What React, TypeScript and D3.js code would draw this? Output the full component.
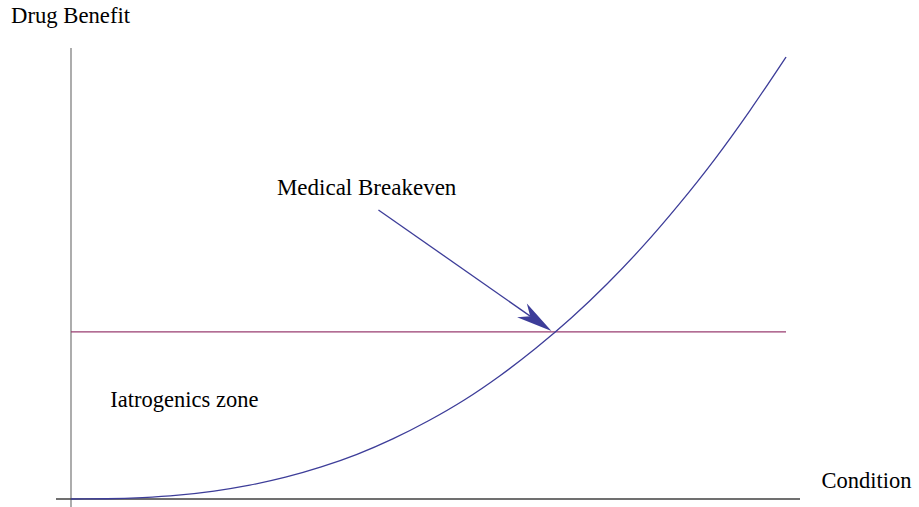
import React from "react";
import * as d3 from "d3";

const conditionValues = [0, 0.05, 0.1, 0.15, 0.2, 0.25, 0.3, 0.35, 0.4, 0.45, 0.5, 0.55, 0.6, 0.65, 0.7, 0.75, 0.8, 0.85, 0.9, 0.95, 1.0];
const benefitValues = [0, 0.06, 0.32, 0.87, 1.79, 3.13, 4.93, 7.25, 10.1, 13.6, 17.7, 22.4, 27.9, 34.1, 41.0, 48.7, 57.2, 66.6, 76.8, 88.0, 100];
const breakevenLevel = [37.8];
const breakevenExtent = [0, 1.0];
const arrowFrom = [0.43, 65.4];
const arrowTo = [0.672, 38.0];
const annotationPos = [0.288, 68.7];
const zonePos = [0.055, 20.8];

const W = 919;
const H = 507;
const FONT = "'Liberation Serif', 'Times New Roman', serif";
const BLUE = "#3d3d99";
const PURPLE = "#993d70";

export default function App() {
  const x = d3.scaleLinear().domain([0, 1]).range([71, 786]);
  const y = d3.scaleLinear().domain([0, 100]).range([499, 57]);

  const pts: [number, number][] = conditionValues.map((c, i) => [c, benefitValues[i]]);
  const line = d3
    .line<[number, number]>()
    .x((d) => x(d[0]))
    .y((d) => y(d[1]))
    .curve(d3.curveMonotoneX);

  // arrow geometry (pixels, from data)
  const x0 = x(arrowFrom[0]);
  const y0 = y(arrowFrom[1]);
  const x1 = x(arrowTo[0]);
  const y1 = y(arrowTo[1]);
  const len = Math.hypot(x1 - x0, y1 - y0);
  const ux = (x1 - x0) / len;
  const uy = (y1 - y0) / len;
  const nx = -uy;
  const ny = ux;
  const L = 36;
  const hw = 8.5;
  const notch = 26;
  const bx = x1 - ux * L;
  const by = y1 - uy * L;
  const head = [
    [x1, y1],
    [bx + nx * hw, by + ny * hw],
    [x1 - ux * notch, y1 - uy * notch],
    [bx - nx * hw, by - ny * hw],
  ]
    .map((p) => p.join(","))
    .join(" ");

  return (
    <svg
      width={W}
      height={H}
      style={{ position: "absolute", left: 0, top: 0, display: "block", background: "#fff" }}
    >
      {/* axes */}
      <line x1={71} y1={48} x2={71} y2={507} stroke="#808080" strokeWidth={1.3} />
      <line x1={56} y1={499} x2={800} y2={499} stroke="#404040" strokeWidth={1.3} />

      {/* breakeven line */}
      <line
        x1={x(breakevenExtent[0])}
        x2={x(breakevenExtent[1])}
        y1={y(breakevenLevel[0])}
        y2={y(breakevenLevel[0])}
        stroke={PURPLE}
        strokeWidth={1.3}
      />

      {/* benefit curve */}
      <path d={line(pts) || ""} fill="none" stroke={BLUE} strokeWidth={1.3} />

      {/* arrow */}
      <line
        x1={x0}
        y1={y0}
        x2={x1 - ux * notch}
        y2={y1 - uy * notch}
        stroke={BLUE}
        strokeWidth={1.3}
      />
      <polygon points={head} fill={BLUE} stroke="none" />

      {/* texts */}
      <text x={11} y={23.3} fontFamily={FONT} fontSize={22.7} fill="#000">
        Drug Benefit
      </text>
      <text x={821.5} y={488.3} fontFamily={FONT} fontSize={22.5} fill="#000">
        Condition
      </text>
      <text x={x(annotationPos[0])} y={y(annotationPos[1])} fontFamily={FONT} fontSize={23} fill="#000">
        Medical Breakeven
      </text>
      <text x={x(zonePos[0])} y={y(zonePos[1])} fontFamily={FONT} fontSize={22.5} fill="#000">
        Iatrogenics zone
      </text>
    </svg>
  );
}
